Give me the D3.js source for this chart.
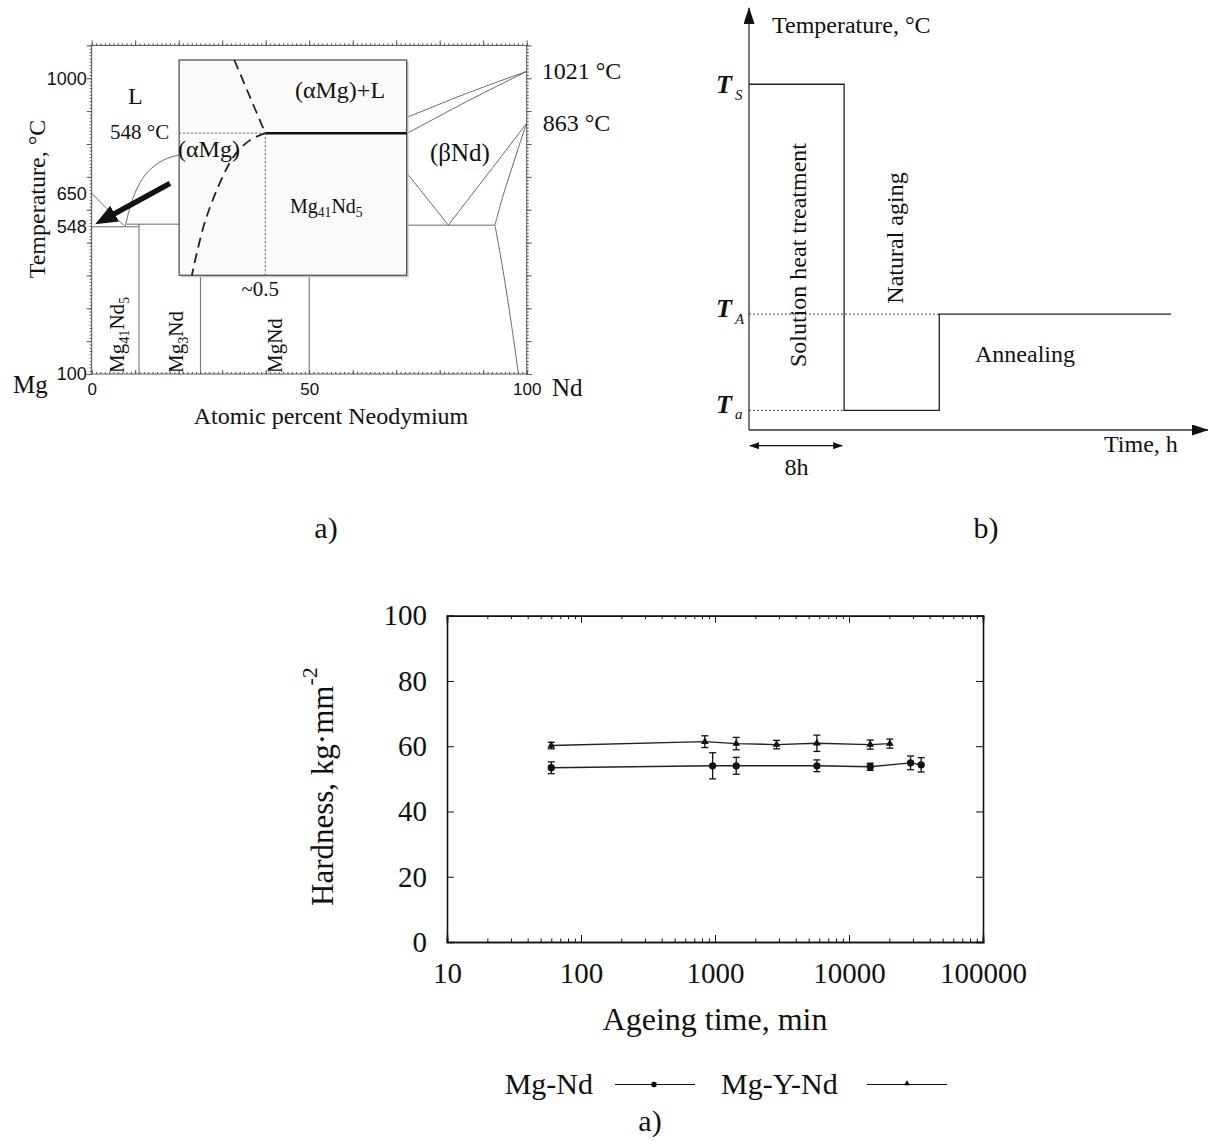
<!DOCTYPE html>
<html>
<head>
<meta charset="utf-8">
<style>
  body { margin: 0; background: #fff; }
</style>
</head>
<body>
<svg width="1208" height="1142"></svg>
<script src="https://d3js.org/d3.v7.min.js"></script>
<script>
const serif = '"Liberation Serif", "Times New Roman", serif';
const sans = '"Liberation Sans", Arial, sans-serif';

// ---- a) Mg-Nd phase diagram, points as [at.% Nd, temperature °C] ----
const mgLiquidus     = [[0, 650], [3.5, 603], [7.7, 548]];
const mg41Liquidus   = [[7.7, 548], [9.6, 640], [12.6, 711], [16.5, 751], [19.9, 766], [25, 780]];
const eutecticLine   = [[0, 548], [10.87, 548]];
const peritecticLine = [[8, 556], [25, 556]];
const mg41Nd5Line    = [[10.87, 100], [10.87, 556]];
const mg3NdLine      = [[25, 100], [25, 780]];
const mgNdLine       = [[50, 100], [50, 800]];
const ndEutectoid    = [[50, 553], [92.7, 553]];
const betaLeft       = [[70, 752], [82, 553]];
const betaRight      = [[82, 553], [100, 863]];
const ndTransus      = [[92.7, 553], [94.5, 640], [96.2, 711], [98, 785], [100, 863]];
const ndSolvus       = [[92.7, 553], [94.5, 420], [96.5, 250], [98.1, 100]];
const liquidusUpper  = [[65, 844], [72.4, 881], [86.2, 954], [100, 1021]];
const liquidusLower  = [[65, 782], [72.4, 832], [86.2, 929], [100, 1021]];
const phaseLines = [mgLiquidus, mg41Liquidus, eutecticLine, peritecticLine, mg41Nd5Line,
  mg3NdLine, mgNdLine, ndEutectoid, betaLeft, betaRight, ndTransus, ndSolvus,
  liquidusUpper, liquidusLower];
const tempLabels = [100, 548, 650, 1000];
const compLabels = [0, 50, 100];

// inset (Mg-rich corner), [wt.% Nd, °C]
const insetLiquidus = [[0.32, 650], [0.41, 599], [0.5, 548]];
const insetSolvus   = [[0.5, 548], [0.41, 538], [0.315, 515], [0.16, 432], [0.074, 350]];

// ---- b) heat treatment schedule (time h, relative temperature) ----
const stepTimes = [0, 8, 8, 16, 16, 35.5];
const stepTemps = [88, 88, 5, 5, 29.5, 29.5];
const levelNames = ['S', 'A', 'a'];
const levelTemps = [88, 29.5, 5];
const levelEnds = [8, 16, 8];

// ---- c) hardness vs ageing time ----
const timesMgNd  = [60, 960, 1440, 5760, 14400, 28800, 34560];
const hardMgNd   = [53.4, 54.0, 54.0, 54.0, 53.7, 54.9, 54.3];
const errMgNd    = [1.8, 4.0, 2.6, 1.8, 1.1, 2.1, 2.2];
const timesMgYNd = [60, 840, 1440, 2880, 5760, 14400, 20160];
const hardMgYNd  = [60.2, 61.4, 60.8, 60.5, 60.9, 60.5, 60.8];
const errMgYNd   = [1.0, 1.8, 1.9, 1.3, 2.5, 1.4, 1.4];
const decades = [10, 100, 1000, 10000, 100000];

const svg = d3.select('svg');
const defs = svg.append('defs');

function arrowMarker(id, w, h, refX) {
  defs.append('marker').attr('id', id)
    .attr('markerUnits', 'userSpaceOnUse')
    .attr('markerWidth', w).attr('markerHeight', h)
    .attr('refX', refX).attr('refY', h / 2)
    .attr('orient', 'auto-start-reverse')
    .append('path').attr('d', `M0,0L${w},${h / 2}L0,${h}Z`).attr('fill', '#111');
}
arrowMarker('bigHead', 22, 18, 4);
arrowMarker('axisHead', 17, 11, 16);
arrowMarker('smallHead', 10, 7, 9);

function styleAxis(g, size, family) {
  g.attr('font-family', family).attr('font-size', size).attr('color', '#111');
  g.selectAll('text').attr('fill', '#111');
}

// ================= a) phase diagram =================
const xP = d3.scaleLinear().domain([0, 100]).range([91.7, 526.7]);
const yP = d3.scaleLinear().domain([100, 1100]).range([374, 45.4]);
const pd = svg.append('g');
const pLine = d3.line().x(d => xP(d[0])).y(d => yP(d[1])).curve(d3.curveCatmullRom);

pd.selectAll('path.phase').data(phaseLines).enter()
  .append('path').attr('class', 'phase')
  .attr('d', pLine).attr('fill', 'none').attr('stroke', '#6a6a6a').attr('stroke-width', 1);

// frame + ticks
pd.append('rect').attr('x', xP(0)).attr('y', yP(1100))
  .attr('width', xP(100) - xP(0)).attr('height', yP(100) - yP(1100))
  .attr('fill', 'none').attr('stroke', '#555').attr('stroke-width', 1);

function pTicks(axis, transform) {
  pd.append('g').attr('transform', transform).call(axis)
    .call(g => g.select('.domain').remove())
    .call(g => g.selectAll('line').attr('stroke', '#555'));
}
const tMinor = d3.range(100, 1101, 10), tMajor = d3.range(100, 1101, 100);
const cMinor = d3.range(0, 101, 1), cMajor = d3.range(0, 101, 10);
pTicks(d3.axisLeft(yP).tickValues(tMinor).tickSize(2).tickFormat(''), `translate(${xP(0)},0)`);
pTicks(d3.axisLeft(yP).tickValues(tMajor).tickSize(5).tickFormat(''), `translate(${xP(0)},0)`);
pTicks(d3.axisRight(yP).tickValues(tMinor).tickSize(2).tickFormat(''), `translate(${xP(100)},0)`);
pTicks(d3.axisRight(yP).tickValues(tMajor).tickSize(5).tickFormat(''), `translate(${xP(100)},0)`);
pTicks(d3.axisTop(xP).tickValues(cMinor).tickSize(2).tickFormat(''), `translate(0,${yP(1100)})`);
pTicks(d3.axisTop(xP).tickValues(cMajor).tickSize(5).tickFormat(''), `translate(0,${yP(1100)})`);
pTicks(d3.axisBottom(xP).tickValues(cMinor).tickSize(-2).tickFormat(''), `translate(0,${yP(100)})`);
pTicks(d3.axisBottom(xP).tickValues(cMajor).tickSize(-4).tickFormat(''), `translate(0,${yP(100)})`);

pd.append('g').attr('transform', `translate(${xP(0)},0)`)
  .call(d3.axisLeft(yP).tickValues(tempLabels).tickSize(0).tickPadding(5).tickFormat(d3.format('d')))
  .call(g => g.select('.domain').remove())
  .call(g => styleAxis(g, 18, sans));
pd.append('g').attr('transform', `translate(0,${yP(100)})`)
  .call(d3.axisBottom(xP).tickValues(compLabels).tickSize(0).tickPadding(9).tickFormat(d3.format('d')))
  .call(g => g.select('.domain').remove())
  .call(g => styleAxis(g, 17, sans));

// inset
const ix0 = 20.1, ix1 = 72.4, it0 = 400.4, it1 = 1055.6;
pd.append('rect').attr('x', xP(ix0) + 2).attr('y', yP(it1) + 2)
  .attr('width', xP(ix1) - xP(ix0)).attr('height', yP(it0) - yP(it1))
  .attr('fill', '#c8c8c8');
pd.append('rect').attr('x', xP(ix0)).attr('y', yP(it1))
  .attr('width', xP(ix1) - xP(ix0)).attr('height', yP(it0) - yP(it1))
  .attr('fill', '#fafafa').attr('stroke', '#555').attr('stroke-width', 1.3);

const xi = d3.scaleLinear().domain([0, 1.32]).range([xP(ix0), xP(ix1)]);
const yi = d3.scaleLinear().domain([350, 650]).range([yP(it0), yP(it1)]);
const iLine = d3.line().x(d => xi(d[0])).y(d => yi(d[1])).curve(d3.curveCatmullRom);

pd.append('line').attr('x1', xi(0)).attr('x2', xi(0.5)).attr('y1', yi(548)).attr('y2', yi(548))
  .attr('stroke', '#666').attr('stroke-dasharray', '2,2');
pd.append('line').attr('x1', xi(0.5)).attr('x2', xi(0.5)).attr('y1', yi(548)).attr('y2', yi(350))
  .attr('stroke', '#666').attr('stroke-dasharray', '2,2');
pd.append('line').attr('x1', xi(0.5)).attr('x2', xi(1.32)).attr('y1', yi(548)).attr('y2', yi(548))
  .attr('stroke', '#111').attr('stroke-width', 2.6);
[insetLiquidus, insetSolvus].forEach(d => {
  pd.append('path').attr('d', iLine(d)).attr('fill', 'none')
    .attr('stroke', '#222').attr('stroke-width', 1.8).attr('stroke-dasharray', '10,6');
});

// arrow pointing at the Mg corner
{
  const sx = xP(18), sy = yP(680), tx = xP(0.8), ty = yP(556);
  const len = Math.hypot(tx - sx, ty - sy), k = (len - 18) / len;
  pd.append('line').attr('x1', sx).attr('y1', sy)
    .attr('x2', sx + (tx - sx) * k).attr('y2', sy + (ty - sy) * k)
    .attr('stroke', '#111').attr('stroke-width', 5.5).attr('marker-end', 'url(#bigHead)');
}

function txt(g, x, y, s, size, opts = {}) {
  const t = g.append('text').attr('x', x).attr('y', y)
    .attr('font-family', opts.family || serif).attr('font-size', size)
    .attr('fill', '#111').attr('text-anchor', opts.anchor || 'start');
  if (opts.rotate) t.attr('transform', `rotate(-90,${x},${y})`);
  if (opts.style) t.attr('font-style', opts.style);
  if (opts.weight) t.attr('font-weight', opts.weight);
  t.text(s);
  return t;
}
// label with subscripts, parts = [[text, isSub], ...]
function subTxt(g, x, y, parts, size, opts = {}) {
  const t = txt(g, x, y, '', size, opts);
  parts.forEach(([s, sub], i) => {
    const prevSub = i > 0 && parts[i - 1][1];
    const ts = t.append('tspan').text(s);
    if (sub) ts.attr('font-size', size * 0.68).attr('dy', prevSub ? 0 : size * 0.22);
    else if (prevSub) ts.attr('dy', -size * 0.22);
  });
  return t;
}

txt(pd, 45, 199, 'Temperature, °C', 24, {rotate: true, anchor: 'middle'});
txt(pd, 13, 393, 'Mg', 25);
txt(pd, 552, 396, 'Nd', 25);
txt(pd, xP(55), 424, 'Atomic percent Neodymium', 24, {anchor: 'middle'});
txt(pd, xP(100) + 15, yP(1021) + 8, '1021 °C', 24);
txt(pd, xP(100) + 16, yP(863) + 8, '863 °C', 24);
txt(pd, 128, 104, 'L', 24);
txt(pd, 110, 139, '548 °C', 21);
txt(pd, 340, 98, '(αMg)+L', 24, {anchor: 'middle'});
txt(pd, 178, 157, '(αMg)', 24);
txt(pd, 430, 161, '(βNd)', 25);
subTxt(pd, 290, 213, [['Mg', 0], ['41', 1], ['Nd', 0], ['5', 1]], 20);
txt(pd, xi(0.5) - 5, 296, '~0.5', 21, {anchor: 'middle'});
subTxt(pd, 124, 373, [['Mg', 0], ['41', 1], ['Nd', 0], ['5', 1]], 21, {rotate: true});
subTxt(pd, 183, 373, [['Mg', 0], ['3', 1], ['Nd', 0]], 21, {rotate: true});
txt(pd, 282, 373, 'MgNd', 21, {rotate: true});

// ================= b) heat treatment =================
const xB = d3.scaleLinear().domain([0, 38.6]).range([749, 1208]);
const yB = d3.scaleLinear().domain([0, 107.4]).range([430, 8]);
const hb = svg.append('g');

hb.append('line').attr('x1', xB(0)).attr('x2', xB(0)).attr('y1', yB(0)).attr('y2', yB(107.4))
  .attr('stroke', '#333').attr('stroke-width', 1.3).attr('marker-end', 'url(#axisHead)');
hb.append('line').attr('x1', xB(0)).attr('x2', xB(38.6)).attr('y1', yB(0)).attr('y2', yB(0))
  .attr('stroke', '#333').attr('stroke-width', 1.3).attr('marker-end', 'url(#axisHead)');

levelNames.forEach((n, i) => {
  if (n !== 'S') {
    hb.append('line').attr('x1', xB(0)).attr('x2', xB(levelEnds[i]))
      .attr('y1', yB(levelTemps[i])).attr('y2', yB(levelTemps[i]))
      .attr('stroke', '#444').attr('stroke-width', 1).attr('stroke-dasharray', '2,2');
  }
  const t = txt(hb, 716, yB(levelTemps[i]) + (n === 'S' ? 9 : 3), 'T', 26, {style: 'italic', weight: 'bold'});
  t.append('tspan').text(n).attr('font-size', 15).attr('font-weight', 'normal')
    .attr('dx', 3).attr('dy', n === 'a' ? 6 : 7);
});

const stepLine = d3.line().x((d, i) => xB(stepTimes[i])).y((d, i) => yB(stepTemps[i]));
hb.append('path').attr('d', stepLine(stepTimes)).attr('fill', 'none')
  .attr('stroke', '#222').attr('stroke-width', 1.3);

hb.append('line').attr('x1', xB(0) + 1).attr('x2', xB(8) - 2).attr('y1', 445.7).attr('y2', 445.7)
  .attr('stroke', '#111').attr('stroke-width', 1.3)
  .attr('marker-start', 'url(#smallHead)').attr('marker-end', 'url(#smallHead)');

txt(hb, 772, 33, 'Temperature, °C', 24);
txt(hb, 806, 255, 'Solution heat treatment', 24, {rotate: true, anchor: 'middle'});
txt(hb, 903, 238, 'Natural aging', 24, {rotate: true, anchor: 'middle'});
txt(hb, 975, 362, 'Annealing', 24);
txt(hb, 1104, 452, 'Time, h', 24);
txt(hb, xB(4), 475, '8h', 24, {anchor: 'middle'});

// panel captions
txt(svg, 326, 538, 'a)', 30, {anchor: 'middle'});
txt(svg, 986, 538, 'b)', 30, {anchor: 'middle'});

// ================= c) hardness =================
const x = d3.scaleLog().domain([10, 100000]).range([447, 983]);
const y = d3.scaleLinear().domain([0, 100]).range([942, 615.7]);
const chart = svg.append('g');

const minor = [];
decades.slice(0, -1).forEach(d => d3.range(2, 10).forEach(k => minor.push(d * k)));

chart.append('g').attr('transform', `translate(0,${y(0)})`)
  .call(d3.axisBottom(x).tickValues(decades).tickSize(-7).tickPadding(20).tickFormat(d3.format('d')))
  .call(g => styleAxis(g, 29, serif));
chart.append('g').attr('transform', `translate(0,${y(0)})`)
  .call(d3.axisBottom(x).tickValues(minor).tickSize(-3.5).tickFormat(''))
  .call(g => styleAxis(g, 29, serif));
chart.append('g').attr('transform', `translate(0,${y(100)})`)
  .call(d3.axisTop(x).tickValues(decades).tickSize(-7).tickFormat(''))
  .call(g => styleAxis(g, 29, serif));
chart.append('g').attr('transform', `translate(0,${y(100)})`)
  .call(d3.axisTop(x).tickValues(minor).tickSize(-3.5).tickFormat(''))
  .call(g => styleAxis(g, 29, serif));
chart.append('g').attr('transform', `translate(${x(10)},0)`)
  .call(d3.axisLeft(y).ticks(5).tickSize(-7).tickPadding(20))
  .call(g => styleAxis(g, 29, serif));
chart.append('g').attr('transform', `translate(${x(100000)},0)`)
  .call(d3.axisRight(y).ticks(5).tickSize(-7).tickFormat(''))
  .call(g => styleAxis(g, 29, serif));
chart.selectAll('.domain').attr('stroke-width', 1.6);

const seriesMgNd = timesMgNd.map((t, i) => ({t, h: hardMgNd[i], e: errMgNd[i]}));
const seriesMgYNd = timesMgYNd.map((t, i) => ({t, h: hardMgYNd[i], e: errMgYNd[i]}));
const line = d3.line().x(d => x(d.t)).y(d => y(d.h));

function drawSeries(data, symbol, size) {
  chart.append('path').datum(data).attr('d', line)
    .attr('fill', 'none').attr('stroke', '#222').attr('stroke-width', 1.4);
  const eb = chart.append('g').attr('stroke', '#111').attr('stroke-width', 1.3);
  data.forEach(d => {
    const cx = x(d.t), y1 = y(d.h - d.e), y2 = y(d.h + d.e);
    eb.append('line').attr('x1', cx).attr('x2', cx).attr('y1', y1).attr('y2', y2);
    eb.append('line').attr('x1', cx - 3.5).attr('x2', cx + 3.5).attr('y1', y1).attr('y2', y1);
    eb.append('line').attr('x1', cx - 3.5).attr('x2', cx + 3.5).attr('y1', y2).attr('y2', y2);
  });
  chart.selectAll(null).data(data).enter().append('path')
    .attr('d', d3.symbol(symbol, size))
    .attr('transform', d => `translate(${x(d.t)},${y(d.h)})`)
    .attr('fill', '#111');
}
drawSeries(seriesMgNd, d3.symbolCircle, 42);
drawSeries(seriesMgYNd, d3.symbolTriangle, 26);

chart.append('text').attr('x', x(100000) / 2 + x(10) / 2).attr('y', 1030)
  .attr('text-anchor', 'middle').attr('font-family', serif).attr('font-size', 32)
  .attr('fill', '#111').text('Ageing time, min');
chart.append('text').attr('transform', 'translate(333,906) rotate(-90)')
  .attr('font-family', serif).attr('font-size', 31).attr('fill', '#111')
  .text('Hardness, kg·mm')
  .append('tspan').attr('font-size', 22).attr('dy', -16).text('-2');

// legend
const legend = chart.append('g');
txt(legend, 593, 1094, 'Mg-Nd', 30, {anchor: 'end'});
txt(legend, 721, 1094, 'Mg-Y-Nd', 30);
legend.append('line').attr('x1', 615).attr('x2', 695).attr('y1', 1084.5).attr('y2', 1084.5)
  .attr('stroke', '#111').attr('stroke-width', 1.2);
legend.append('path').attr('d', d3.symbol(d3.symbolCircle, 24)).attr('transform', 'translate(654,1084.5)');
legend.append('line').attr('x1', 867).attr('x2', 947).attr('y1', 1084.5).attr('y2', 1084.5)
  .attr('stroke', '#111').attr('stroke-width', 1.2);
legend.append('path').attr('d', d3.symbol(d3.symbolTriangle, 14)).attr('transform', 'translate(907,1083.5)');
txt(svg, 650, 1131, 'a)', 30, {anchor: 'middle'});
</script>
</body>
</html>
